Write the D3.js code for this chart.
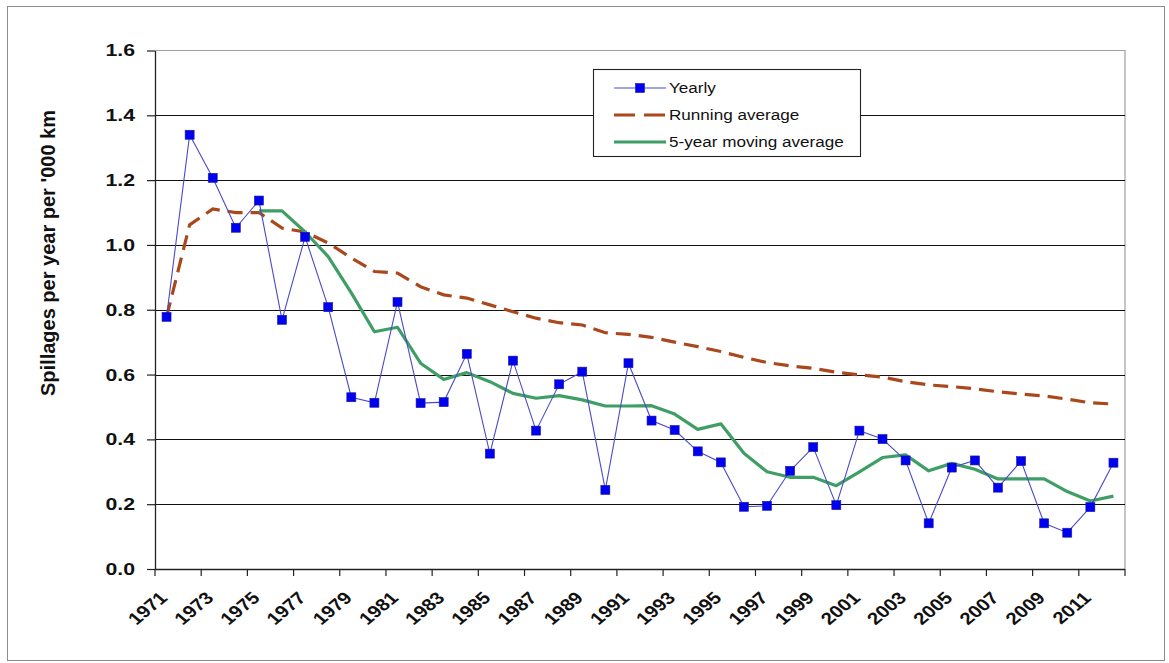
<!DOCTYPE html>
<html>
<head>
<meta charset="utf-8">
<script src="https://cdn.jsdelivr.net/npm/d3@7"></script>
<style>
  html, body { margin: 0; padding: 0; background: #fff; }
  svg { display: block; font-family: "Liberation Sans", Arial, sans-serif; }
</style>
</head>
<body>
<svg id="chart" width="1169" height="663"></svg>
<script>
const years = d3.range(1971, 2013);
const yearly = [0.778, 1.340, 1.207, 1.053, 1.137, 0.769, 1.025, 0.808, 0.530, 0.513,
  0.824, 0.512, 0.515, 0.664, 0.356, 0.643, 0.427, 0.570, 0.609, 0.244,
  0.635, 0.458, 0.429, 0.363, 0.329, 0.192, 0.195, 0.303, 0.376, 0.197,
  0.427, 0.401, 0.335, 0.141, 0.313, 0.335, 0.251, 0.333, 0.141, 0.112,
  0.191, 0.328];
const runningAvg = [0.778, 1.062, 1.111, 1.100, 1.100, 1.052, 1.040, 1.006, 0.960, 0.918,
  0.913, 0.871, 0.846, 0.836, 0.815, 0.794, 0.774, 0.760, 0.753, 0.729,
  0.724, 0.715, 0.700, 0.686, 0.671, 0.653, 0.637, 0.627, 0.619, 0.607,
  0.599, 0.592, 0.578, 0.568, 0.563, 0.556, 0.547, 0.540, 0.534, 0.524,
  0.513, 0.509];
// 5-year moving average starts in 1975
const movingAvg = [null, null, null, null, 1.105, 1.105, 1.040, 0.964, 0.852, 0.732,
  0.746, 0.635, 0.585, 0.606, 0.578, 0.542, 0.527, 0.535, 0.522, 0.503,
  0.503, 0.504, 0.478, 0.431, 0.448, 0.357, 0.300, 0.283, 0.283, 0.257,
  0.300, 0.344, 0.352, 0.303, 0.326, 0.308, 0.278, 0.278, 0.278, 0.239,
  0.210, 0.225];
const yTicks = [0, 0.2, 0.4, 0.6, 0.8, 1.0, 1.2, 1.4, 1.6];
const xTickLabels = years.filter((y, i) => i % 2 === 0);
const seriesNames = ["Yearly", "Running average", "5-year moving average"];

const svg = d3.select("#chart");
const L = 155, R = 1125, T = 50.5, B = 569;

// outer frame
svg.append("rect").attr("x", 7.5).attr("y", 6.5).attr("width", 1157).attr("height", 654)
  .attr("fill", "#fff").attr("stroke", "#8c8c8c").attr("stroke-width", 1);

const x = d3.scaleBand().domain(years).range([L, R]).padding(0);
const y = d3.scaleLinear().domain([0, 1.6]).range([B, T]);
const cx = d => x(d) + x.bandwidth() / 2;

// plot border (top & right in grey)
svg.append("path")
  .attr("d", `M${L},${T}H${R}V${B}`)
  .attr("fill", "none").attr("stroke", "#a0a0a0").attr("stroke-width", 1.2);

// gridlines
svg.append("g").selectAll("line").data(yTicks.filter(v => v > 0 && v < 1.6)).join("line")
  .attr("x1", L).attr("x2", R)
  .attr("y1", d => Math.round(y(d)) + 0.5).attr("y2", d => Math.round(y(d)) + 0.5)
  .attr("stroke", "#111").attr("stroke-width", 1.2);

// y axis
const yAxis = d3.axisLeft(y).tickValues(yTicks).tickFormat(d3.format(".1f")).tickSize(8).tickSizeOuter(0).tickPadding(12);
const gy = svg.append("g").attr("transform", `translate(${L},0)`).call(yAxis);
gy.select(".domain").attr("stroke", "#222").attr("stroke-width", 1.3);
gy.selectAll(".tick line").attr("stroke", "#222").attr("stroke-width", 1.2);
gy.selectAll(".tick text").attr("font-size", "17px").attr("font-weight", "bold")
  .attr("fill", "#111").attr("font-family", "Liberation Sans, Arial, sans-serif")
  .attr("x", -20 / 1.25).attr("transform", "scale(1.25,1)");

// x axis line and ticks at every second category boundary
const xAxisG = svg.append("g");
xAxisG.append("line").attr("x1", L).attr("x2", R).attr("y1", B + 0.5).attr("y2", B + 0.5)
  .attr("stroke", "#222").attr("stroke-width", 1.3);
const boundaries = years.filter((d, i) => i % 2 === 0).map(d => x(d)).concat([R]);
xAxisG.selectAll("line.tk").data(boundaries).join("line").attr("class", "tk")
  .attr("x1", d => d).attr("x2", d => d).attr("y1", B).attr("y2", B + 7)
  .attr("stroke", "#222").attr("stroke-width", 1.2);
xAxisG.selectAll("text").data(xTickLabels).join("text")
  .attr("transform", d => `translate(${cx(d) + 2},${B + 30}) scale(1.2,1) rotate(-45)`)
  .attr("text-anchor", "end").attr("font-size", "17px").attr("font-weight", "bold")
  .attr("fill", "#111").text(d => d);

// y title
svg.append("text")
  .attr("transform", `translate(55,253) rotate(-90)`)
  .attr("text-anchor", "middle").attr("font-size", "20px").attr("font-weight", "bold")
  .attr("fill", "#111").text("Spillages per year per '000 km");

// lines
const line = d3.line().defined(d => d[1] != null).x(d => cx(d[0])).y(d => y(d[1]));
const brown = "#a9481d", green = "#3f9e65", blueLine = "#4a4ac8", blue = "#0000f0";

svg.append("path").datum(years.map((yr, i) => [yr, runningAvg[i]]))
  .attr("d", line).attr("fill", "none").attr("stroke", brown).attr("stroke-width", 3.2)
  .attr("stroke-dasharray", "15,8");
svg.append("path").datum(years.map((yr, i) => [yr, movingAvg[i]]))
  .attr("d", line).attr("fill", "none").attr("stroke", green).attr("stroke-width", 3.2)
  .attr("stroke-linejoin", "round");
svg.append("path").datum(years.map((yr, i) => [yr, yearly[i]]))
  .attr("d", line).attr("fill", "none").attr("stroke", blueLine).attr("stroke-width", 1.1);
svg.append("g").selectAll("rect").data(years.map((yr, i) => [yr, yearly[i]])).join("rect")
  .attr("x", d => cx(d[0]) - 4.5).attr("y", d => y(d[1]) - 4.5)
  .attr("width", 9).attr("height", 9).attr("fill", blue).attr("stroke", "#1a1aa0").attr("stroke-width", 0.6);

// legend
const lg = svg.append("g");
lg.append("rect").attr("x", 593.5).attr("y", 69.5).attr("width", 267).attr("height", 87)
  .attr("fill", "#fff").attr("stroke", "#222").attr("stroke-width", 1.1);
const ly = [88, 115, 142];
const lx1 = 614, lx2 = 666;
lg.append("line").attr("x1", lx1).attr("x2", lx2).attr("y1", ly[0]).attr("y2", ly[0])
  .attr("stroke", blueLine).attr("stroke-width", 1.1);
lg.append("rect").attr("x", (lx1 + lx2) / 2 - 4.5).attr("y", ly[0] - 4.5).attr("width", 9).attr("height", 9)
  .attr("fill", blue).attr("stroke", "#1a1aa0").attr("stroke-width", 0.6);
lg.append("line").attr("x1", lx1).attr("x2", lx2).attr("y1", ly[1]).attr("y2", ly[1])
  .attr("stroke", brown).attr("stroke-width", 3.2).attr("stroke-dasharray", "21,9");
lg.append("line").attr("x1", lx1).attr("x2", lx2).attr("y1", ly[2]).attr("y2", ly[2])
  .attr("stroke", green).attr("stroke-width", 3.2);
lg.selectAll("text").data(seriesNames).join("text")
  .attr("transform", (d, i) => `translate(669,${ly[i] + 5}) scale(1.14,1)`)
  .attr("font-size", "15px").attr("fill", "#111").text(d => d);
</script>
</body>
</html>
